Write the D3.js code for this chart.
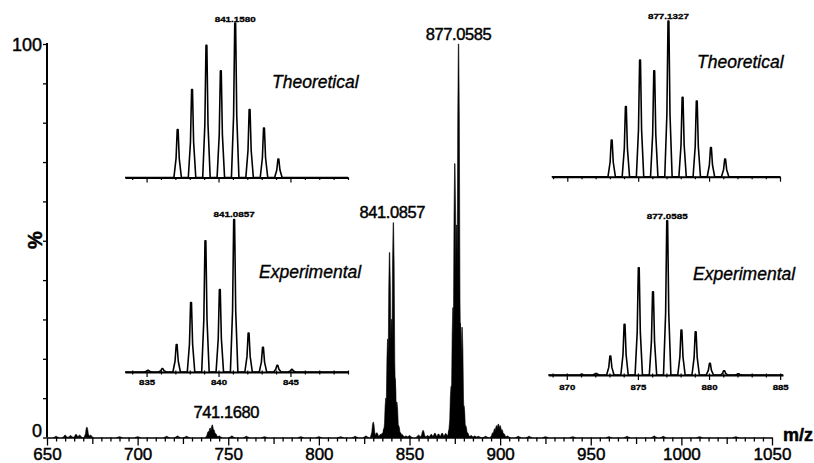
<!DOCTYPE html>
<html>
<head>
<meta charset="utf-8">
<script src="https://cdn.jsdelivr.net/npm/d3@7/dist/d3.min.js"></script>
<style>
  html, body { margin: 0; padding: 0; background: #fff; }
  svg { display: block; font-family: "Liberation Sans", Arial, sans-serif; }
  text { fill: #000; stroke: #000; stroke-width: 0.45px; }
</style>
</head>
<body>
<svg id="chart" width="814" height="463"></svg>
<script>
// ---------- Survey spectrum (m/z vs. relative abundance, %) ----------
const surveyMz = [655, 660, 663, 666, 668, 672, 674, 690, 700, 716, 722, 727,
  739, 740, 741.168, 742, 743, 745, 752, 760, 770, 790, 800, 812, 820, 826,
  830, 832, 834, 835, 836, 837, 838, 839, 840, 841.0857, 842, 843, 844, 845, 846, 848,
  850, 855, 857.5, 860, 862, 864, 866, 868, 870, 872, 873, 874, 875, 876, 877.0585,
  878, 879, 880, 881, 882, 884, 886, 888, 892, 896, 897, 898, 899, 900, 901, 902,
  904, 910, 916, 925, 940, 960, 970, 985, 990, 1010, 1030];
const surveyInt = [0.3, 0.6, 0.5, 0.8, 0.6, 2.6, 0.6, 0.2, 0.2, 0.3, 0.4, 0.3,
  1.5, 2.4, 3.2, 2.0, 1.0, 0.4, 0.4, 0.3, 0.2, 0.2, 0.2, 0.2, 0.3, 0.4,
  3.9, 1.2, 0.8, 1.1, 2.3, 10, 25, 47, 30, 54.6, 15, 9, 3, 1.2, 0.7, 0.4,
  0.5, 0.6, 1.8, 0.5, 0.8, 1.1, 0.9, 1.1, 1.0, 2.0, 13, 33, 69.6, 54, 100,
  29, 28, 8, 3, 1.2, 0.5, 0.4, 0.3, 0.3, 1.2, 2.2, 3.0, 3.4, 3.0, 2.0, 1.0,
  0.4, 0.3, 0.3, 0.2, 0.2, 0.2, 0.3, 0.4, 0.3, 0.2, 0.2];
const surveyLabelMz = [877.0585, 841.0857, 741.1680];
const surveyLabelText = ["877.0585", "841.0857", "741.1680"];
const surveyXTicks = [650, 700, 750, 800, 850, 900, 950, 1000, 1050];
const surveyYTicks = [0, 100];

// ---------- Isotope patterns (relative intensity, %) ----------
const theo841Mz  = [837.16, 838.16, 839.16, 840.16, 841.158, 842.16, 843.16, 844.16];
const theo841Int = [31, 57, 85.5, 69, 100, 44, 32, 12];
const exp841Mz   = [835.1, 836.1, 837.09, 838.09, 839.09, 840.09, 841.0857, 842.09, 843.09, 844.09, 845.1];
const exp841Int  = [1.1, 2.2, 18, 45.5, 86, 54, 100, 25.6, 16.2, 4.4, 1.7];
const theo877Mz  = [873.13, 874.13, 875.13, 876.13, 877.1327, 878.13, 879.13, 880.13, 881.13];
const theo877Int = [23.6, 45, 75, 68, 100, 51, 48.6, 18.8, 11.3];
const exp877Mz   = [871.06, 872.06, 873.06, 874.06, 875.06, 876.06, 877.0585, 878.06, 879.06, 880.06, 881.06, 882.06];
const exp877Int  = [0.5, 1, 12.3, 32.8, 69.5, 54, 100, 29.2, 28, 7.6, 2.8, 0.8];
const insetTickLabels841 = [835, 840, 845];
const insetTickLabels877 = [870, 875, 880, 885];

const svg = d3.select("#chart");

// ---------- Survey panel ----------
const x = d3.scaleLinear().domain([650, 1050]).range([47, 772]);
const y = d3.scaleLinear().domain([0, 100]).range([437.5, 44]);

// peak outline, offsets in m/z and fraction of peak height
const surveyShape = [[-1.6, 0], [-0.8, 0.35], [-0.45, 0.8], [-0.12, 1],
                     [0.12, 1], [0.45, 0.8], [0.8, 0.35], [1.6, 0]];
const line = d3.line();

svg.append("g").selectAll("path")
  .data(d3.zip(surveyMz, surveyInt))
  .join("path")
  .attr("d", ([m, v]) => line(surveyShape.map(([dm, f]) => [x(m + dm), y(v * f)])) + "Z")
  .attr("fill", "#000")
  .attr("stroke", "#000")
  .attr("stroke-width", 0.6);

// x axis
const xAxis = svg.append("g")
  .attr("transform", `translate(0,${y(0)})`)
  .call(d3.axisBottom(x)
    .tickValues(d3.range(650, 1051, 5))
    .tickSize(4)
    .tickSizeOuter(0)
    .tickFormat(d => surveyXTicks.includes(d) ? d : ""));
xAxis.select(".domain").attr("stroke-width", 1.6);
xAxis.selectAll(".tick line")
  .attr("stroke-width", 1.3)
  .attr("y2", d => d % 50 === 0 ? 8 : d % 25 === 0 ? 6.5 : 4);
xAxis.selectAll(".tick text")
  .attr("y", 0).attr("dy", null)
  .attr("transform", "translate(0,22)")
  .attr("font-size", 17)
  .attr("font-family", "'Liberation Sans', Arial, sans-serif");

// y axis
const yAxis = svg.append("g")
  .attr("transform", `translate(${x(650)},0)`)
  .call(d3.axisLeft(y)
    .tickValues(d3.range(0, 101, 10))
    .tickSize(4)
    .tickSizeOuter(0)
    .tickPadding(1)
    .tickFormat(d => surveyYTicks.includes(d) ? d : ""));
yAxis.select(".domain").attr("stroke-width", 2).attr("d", `M0,${y(0)}V${y(100) - 1}`);
yAxis.selectAll(".tick line").attr("stroke-width", 1.3);
yAxis.selectAll(".tick text")
  .attr("font-size", 18)
  .attr("font-family", "'Liberation Sans', Arial, sans-serif")
  .attr("dy", d => d === 0 ? "-0.05em" : "0.35em");

svg.append("text")
  .attr("transform", "translate(42,240) rotate(-90)")
  .attr("text-anchor", "middle")
  .attr("font-size", 20)
  .attr("font-weight", "bold")
  .text("%");

svg.append("text")
  .attr("x", 783).attr("y", 441)
  .attr("font-size", 18)
  .attr("font-weight", "bold")
  .text("m/z");

// peak annotations on the survey spectrum
const surveyLabelY = { "877.0585": 40, "841.0857": 218, "741.1680": 418 };
const surveyLabelDx = { "877.0585": 0, "841.0857": -1, "741.1680": 14 };
svg.append("g").selectAll("text")
  .data(d3.zip(surveyLabelMz, surveyLabelText))
  .join("text")
  .attr("x", ([m, t]) => x(m) + surveyLabelDx[t])
  .attr("y", ([m, t]) => surveyLabelY[t])
  .attr("text-anchor", "middle")
  .attr("font-size", 16.5)
  .attr("letter-spacing", -0.4)
  .text(([m, t]) => t);

// ---------- Inset isotope patterns ----------
const insetShape = [[-0.26, 0], [-0.11, 0.4], [-0.03, 1], [0.03, 1], [0.11, 0.4], [0.26, 0]];

function drawInset(cfg) {
  const ix = d3.scaleLinear().domain(cfg.domain).range(cfg.xRange);
  const iy = d3.scaleLinear().domain([0, 100]).range(cfg.yRange);
  const g = svg.append("g");

  // spectrum trace: baseline with a narrow outline for each isotope peak
  const pts = [[ix(cfg.domain[0]), iy(0)]];
  d3.zip(cfg.mz, cfg.int).forEach(([m, v]) => {
    insetShape.forEach(([dm, f]) => pts.push([ix(m + dm), iy(v * f)]));
  });
  pts.push([ix(cfg.domain[1]), iy(0)]);
  g.append("path")
    .attr("d", d3.line()(pts))
    .attr("fill", "none")
    .attr("stroke", "#000")
    .attr("stroke-width", 1.6)
    .attr("stroke-linejoin", "round");

  // axis with one tick per m/z unit
  const ticks = d3.range(Math.ceil(cfg.domain[0]), Math.floor(cfg.domain[1]) + 1);
  const ax = g.append("g")
    .attr("transform", `translate(0,${iy(0)})`)
    .call(d3.axisBottom(ix)
      .tickValues(ticks)
      .tickSize(2.5)
      .tickSizeOuter(0)
      .tickFormat(d => cfg.tickLabels.includes(d) ? d : ""));
  ax.select(".domain").attr("stroke-width", 2);
  ax.selectAll(".tick line")
    .attr("stroke-width", 1.2)
    .attr("y1", cfg.tickLabels.length ? -1.5 : 0)
    .attr("y2", d => d % 5 === 0 ? 5 : 2.5);
  ax.selectAll(".tick text")
    .attr("y", cfg.tickLabelY).attr("dy", null)
    .attr("font-size", 8)
    .attr("font-weight", "bold")
    .attr("font-family", "'Liberation Sans', Arial, sans-serif")
    .attr("textLength", 16)
    .attr("lengthAdjust", "spacingAndGlyphs")
    .style("stroke-width", "0.3px");

  // most intense isotope label
  g.append("text")
    .attr("x", ix(cfg.labelMz))
    .attr("y", cfg.labelY)
    .attr("text-anchor", "middle")
    .attr("font-size", 8)
    .attr("font-weight", "bold")
    .attr("textLength", 41)
    .attr("lengthAdjust", "spacingAndGlyphs")
    .style("stroke-width", "0.3px")
    .text(cfg.labelText);

  g.append("text")
    .attr("x", cfg.title[0]).attr("y", cfg.title[1])
    .attr("font-size", 17.5)
    .attr("font-style", "italic")
    .style("stroke-width", "0.35px")
    .text(cfg.titleText);
}

drawInset({ domain: [833.5, 849], xRange: [125, 348], yRange: [177.5, 23],
  mz: theo841Mz, int: theo841Int, tickLabels: [], tickLabelY: 0,
  labelMz: 841.158, labelText: "841.1580", labelY: 22,
  title: [272, 88], titleText: "Theoretical" });
drawInset({ domain: [833.5, 849], xRange: [125, 348], yRange: [372, 219.5],
  mz: exp841Mz, int: exp841Int, tickLabels: insetTickLabels841, tickLabelY: 13,
  labelMz: 841.0857, labelText: "841.0857", labelY: 216.5,
  title: [259, 278], titleText: "Experimental" });
drawInset({ domain: [868.9, 885], xRange: [551.7, 780], yRange: [176.7, 21],
  mz: theo877Mz, int: theo877Int, tickLabels: [], tickLabelY: 0,
  labelMz: 877.1327, labelText: "877.1327", labelY: 19,
  title: [697, 68], titleText: "Theoretical" });
drawInset({ domain: [868.7, 885.2], xRange: [548.3, 783], yRange: [375, 220.7],
  mz: exp877Mz, int: exp877Int, tickLabels: insetTickLabels877, tickLabelY: 15,
  labelMz: 877.0585, labelText: "877.0585", labelY: 219,
  title: [693, 280], titleText: "Experimental" });
</script>
</body>
</html>
